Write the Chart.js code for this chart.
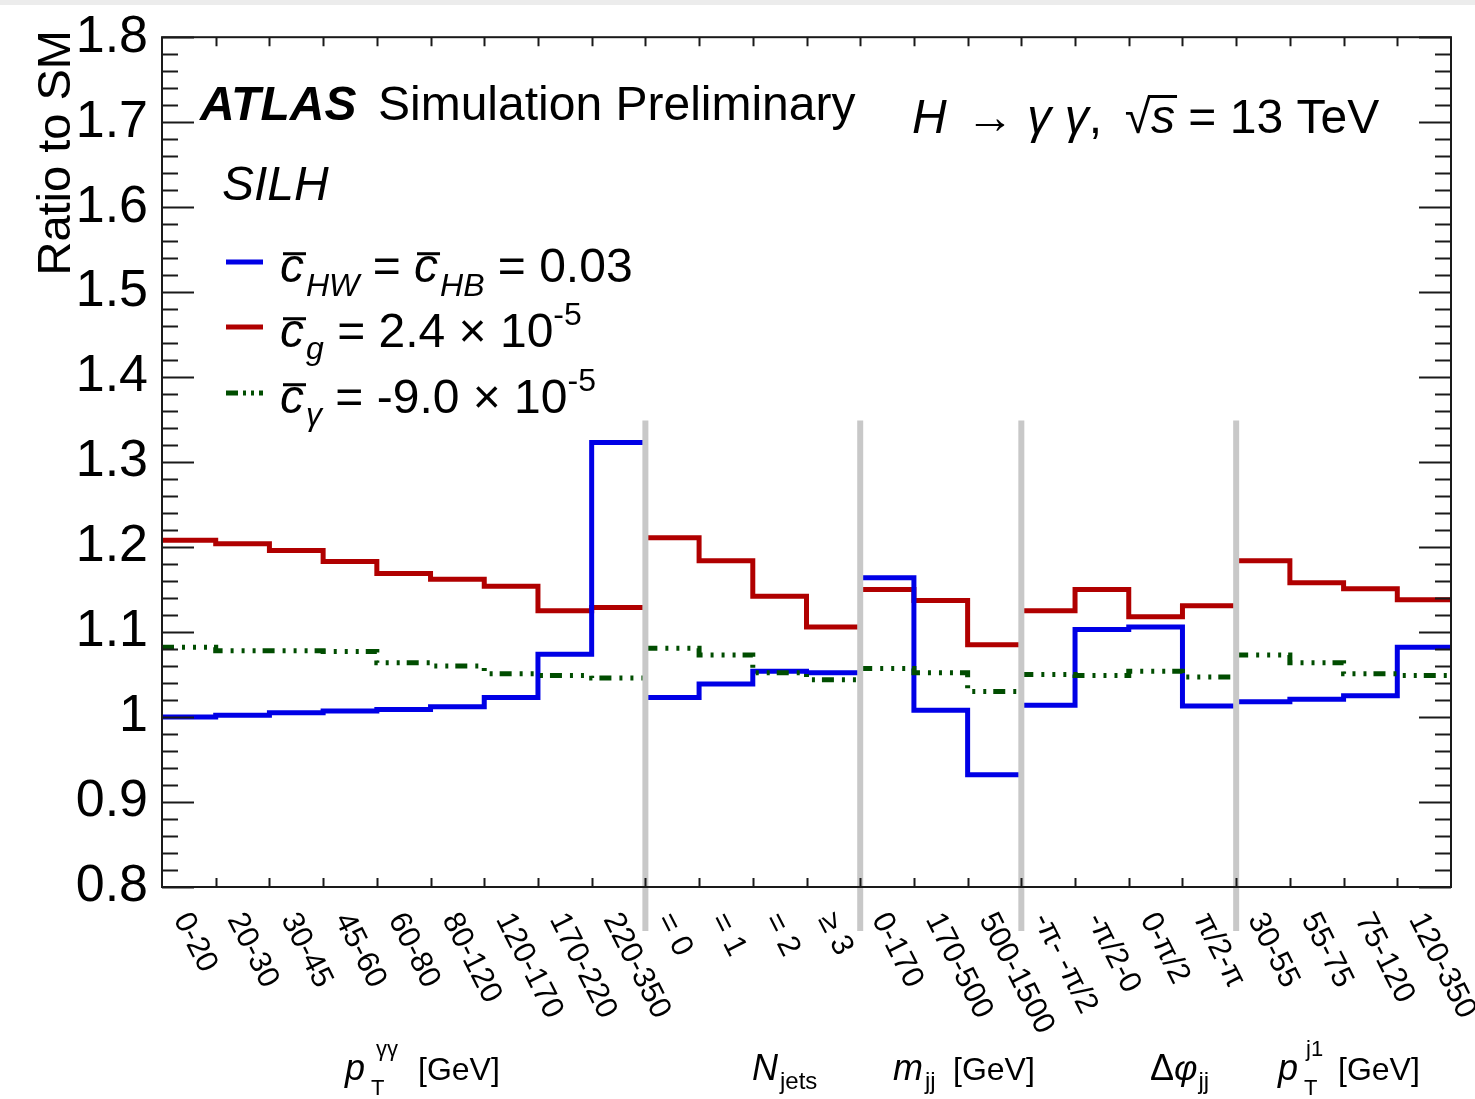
<!DOCTYPE html>
<html>
<head>
<meta charset="utf-8">
<title>SILH ratio to SM</title>
<script src="https://cdn.jsdelivr.net/npm/chart.js@4.4.1/dist/chart.umd.min.js"></script>
<style>
  html, body { margin: 0; padding: 0; background: #fff; }
  #wrap { position: relative; width: 1475px; height: 1099px; }
</style>
</head>
<body>
<div id="wrap"><canvas id="ratioChart"></canvas></div>
<script>
// bins of the five distributions, in plotting order
const binLabels = [
    '0-20', '20-30', '30-45', '45-60', '60-80', '80-120', '120-170', '170-220', '220-350',
    '= 0', '= 1', '= 2', '\u2265 3',
    '0-170', '170-500', '500-1500',
    '-\u03c0- -\u03c0/2', '-\u03c0/2-0', '0-\u03c0/2', '\u03c0/2-\u03c0',
    '30-55', '55-75', '75-120', '120-350'
];
// index of the first bin of each new distribution
const groupStarts = [9, 13, 16, 20];

const cHW = [1.000, 1.002, 1.005, 1.007, 1.009, 1.012, 1.023, 1.074, 1.323,
             1.023, 1.039, 1.054, 1.052,
             1.164, 1.008, 0.932,
             1.014, 1.103, 1.106, 1.013,
             1.018, 1.021, 1.025, 1.082];
const cG = [1.208, 1.204, 1.196, 1.183, 1.169, 1.162, 1.154, 1.125, 1.129,
            1.211, 1.184, 1.142, 1.106,
            1.150, 1.137, 1.085,
            1.125, 1.150, 1.118, 1.131,
            1.184, 1.158, 1.151, 1.138];
const cGamma = [1.082, 1.078, 1.078, 1.077, 1.064, 1.060, 1.051, 1.049, 1.046,
                1.081, 1.073, 1.052, 1.044,
                1.057, 1.052, 1.030,
                1.050, 1.049, 1.054, 1.047,
                1.073, 1.064, 1.051, 1.049];

const SANS = '"Liberation Sans", Arial, Helvetica, sans-serif';
const BLUE = '#0000e6';
const RED = '#b00000';
const GREEN = '#004d00';
const GREEN_DASH = [12, 8, 3, 8, 3, 8, 3, 7];

// turn bin contents into step-line points, broken between distributions
function histPoints(values) {
    const pts = [];
    values.forEach((v, i) => {
        if (i > 0 && groupStarts.includes(i)) pts.push({ x: i, y: null });
        pts.push({ x: i, y: v }, { x: i + 1, y: v });
    });
    return pts;
}

function txt(ctx, t, x, y, size, style) {
    ctx.font = `${style || ''} ${size}px ${SANS}`;
    ctx.fillText(t, x, y);
    return x + ctx.measureText(t).width;
}

// c with a bar on top
function cbar(ctx, x, y, size) {
    const end = txt(ctx, 'c', x, y, size, 'italic');
    ctx.fillRect(x + 3, y - size * 0.62, end - x - 1, 3);
    return end;
}

const atlasDecor = {
    id: 'atlasDecor',
    beforeDraw(chart) {
        const ctx = chart.ctx;
        ctx.save();
        ctx.fillStyle = '#fff';
        ctx.fillRect(0, 0, chart.width, chart.height);
        ctx.fillStyle = '#ececec';
        ctx.fillRect(0, 0, chart.width, 5);
        ctx.restore();
    },
    afterDatasetsDraw(chart) {
        const { ctx, chartArea: a, scales: { x, y } } = chart;
        ctx.save();

        // grey separators between distributions
        ctx.strokeStyle = '#c8c8c8';
        ctx.lineWidth = 6;
        groupStarts.forEach(g => {
            const px = x.getPixelForValue(g);
            ctx.beginPath();
            ctx.moveTo(px, y.getPixelForValue(1.349));
            ctx.lineTo(px, a.bottom + 44);
            ctx.stroke();
        });

        // frame and inward ticks
        ctx.strokeStyle = '#1a1a1a';
        ctx.lineWidth = 2;
        ctx.strokeRect(a.left, a.top, a.right - a.left, a.bottom - a.top);
        ctx.beginPath();
        for (let k = 0; k <= 50; k++) {
            const py = Math.round(y.getPixelForValue(0.8 + k * 0.02)) + 0.5;
            const len = k % 5 === 0 ? 32 : 16;
            ctx.moveTo(a.left, py); ctx.lineTo(a.left + len, py);
            ctx.moveTo(a.right, py); ctx.lineTo(a.right - len, py);
        }
        for (let i = 1; i < binLabels.length; i++) {
            const px = Math.round(x.getPixelForValue(i)) + 0.5;
            ctx.moveTo(px, a.bottom); ctx.lineTo(px, a.bottom - 9);
            ctx.moveTo(px, a.top); ctx.lineTo(px, a.top + 9);
        }
        ctx.stroke();

        ctx.fillStyle = '#000';
        ctx.textBaseline = 'middle';
        ctx.textAlign = 'left';
        // rotated bin labels
        ctx.font = `31px ${SANS}`;
        binLabels.forEach((t, i) => {
            ctx.save();
            ctx.translate(x.getPixelForValue(i + 0.5) - 8, a.bottom + 28);
            ctx.rotate(63 * Math.PI / 180);
            ctx.fillText(t, 0, 0);
            ctx.restore();
        });

        ctx.textBaseline = 'alphabetic';
        // distribution names under the axis
        const by = 1080;
        txt(ctx, 'p', 345, by, 36, 'italic');
        txt(ctx, 'T', 371, by + 15, 22);
        txt(ctx, '\u03b3\u03b3', 376, by - 24, 22);
        txt(ctx, '[GeV]', 418, by, 32);
        let nx = txt(ctx, 'N', 752, by, 36, 'italic');
        txt(ctx, 'jets', nx + 2, by + 9, 24);
        nx = txt(ctx, 'm', 893, by, 36, 'italic');
        txt(ctx, 'jj', nx + 2, by + 9, 24);
        txt(ctx, '[GeV]', 953, by, 32);
        nx = txt(ctx, '\u0394', 1150, by, 36);
        nx = txt(ctx, '\u03c6', nx, by, 36, 'italic');
        txt(ctx, 'jj', nx + 1, by + 9, 24);
        txt(ctx, 'p', 1278, by, 36, 'italic');
        txt(ctx, 'T', 1304, by + 15, 22);
        txt(ctx, 'j1', 1306, by - 24, 22);
        txt(ctx, '[GeV]', 1338, by, 32);

        // y axis title
        ctx.save();
        ctx.translate(70, 30);
        ctx.rotate(-Math.PI / 2);
        ctx.textAlign = 'right';
        txt(ctx, 'Ratio to SM', 0, 0, 47);
        ctx.restore();

        // labels inside the frame
        txt(ctx, 'ATLAS', 200, 120, 48, 'bold italic');
        txt(ctx, 'Simulation Preliminary', 378, 120, 48);
        txt(ctx, 'SILH', 222, 200, 48, 'italic');

        let hx = txt(ctx, 'H', 912, 133, 48, 'italic');
        hx = txt(ctx, ' \u2192 ', hx + 6, 133, 48);
        hx = txt(ctx, '\u03b3 \u03b3', hx, 133, 48, 'italic');
        hx = txt(ctx, ',  ', hx, 133, 48);
        hx = txt(ctx, '\u221a', hx - 4, 133, 48);
        const sx = hx;
        hx = txt(ctx, 's', hx, 133, 48, 'italic');
        ctx.fillRect(sx - 2, 95, hx - sx + 4, 3);
        txt(ctx, ' = 13 TeV', hx, 133, 48);

        // legend
        const rows = [
            { yy: 262, color: BLUE, dash: [] },
            { yy: 327, color: RED, dash: [] },
            { yy: 393, color: GREEN, dash: [12, 5, 3, 5, 3, 5] }
        ];
        rows.forEach(r => {
            ctx.strokeStyle = r.color;
            ctx.lineWidth = 5;
            ctx.setLineDash(r.dash);
            ctx.beginPath();
            ctx.moveTo(226, r.yy); ctx.lineTo(263, r.yy);
            ctx.stroke();
        });
        ctx.setLineDash([]);
        let lx = cbar(ctx, 280, 282, 48);
        lx = txt(ctx, 'HW', lx + 2, 296, 32, 'italic');
        lx = txt(ctx, ' = ', lx, 282, 48);
        lx = cbar(ctx, lx, 282, 48);
        lx = txt(ctx, 'HB', lx + 2, 296, 32, 'italic');
        txt(ctx, ' = 0.03', lx, 282, 48);

        lx = cbar(ctx, 280, 347, 48);
        lx = txt(ctx, 'g', lx + 2, 359, 32, 'italic');
        lx = txt(ctx, ' = 2.4 \u00d7 10', lx, 347, 48);
        txt(ctx, '-5', lx, 325, 32);

        lx = cbar(ctx, 280, 413, 48);
        lx = txt(ctx, '\u03b3', lx + 2, 425, 32, 'italic');
        lx = txt(ctx, ' = -9.0 \u00d7 10', lx, 413, 48);
        txt(ctx, '-5', lx, 391, 32);

        ctx.restore();
    }
};

const lineStyle = { pointRadius: 0, borderJoinStyle: 'miter', borderCapStyle: 'butt', fill: false, tension: 0 };

new Chart(document.getElementById('ratioChart'), {
    type: 'line',
    data: {
        datasets: [
            { label: 'cgamma', data: histPoints(cGamma), borderColor: GREEN, borderWidth: 5, borderDash: GREEN_DASH, ...lineStyle },
            { label: 'cHW', data: histPoints(cHW), borderColor: BLUE, borderWidth: 5, ...lineStyle },
            { label: 'cg', data: histPoints(cG), borderColor: RED, borderWidth: 5, ...lineStyle }
        ]
    },
    options: {
        responsive: true,
        maintainAspectRatio: false,
        animation: false,
        layout: { padding: { left: 0, right: 24, top: 32, bottom: 212 } },
        plugins: { legend: { display: false }, tooltip: { enabled: false } },
        scales: {
            x: { type: 'linear', min: 0, max: binLabels.length, display: false },
            y: {
                type: 'linear', min: 0.8, max: 1.8,
                afterFit: s => { s.width = 162; },
                grid: { display: false },
                border: { display: false },
                ticks: {
                    stepSize: 0.1,
                    padding: 6,
                    color: '#000',
                    font: { family: SANS, size: 52 },
                    callback: v => String(+v.toFixed(1))
                }
            }
        }
    },
    plugins: [atlasDecor]
});
</script>
</body>
</html>
